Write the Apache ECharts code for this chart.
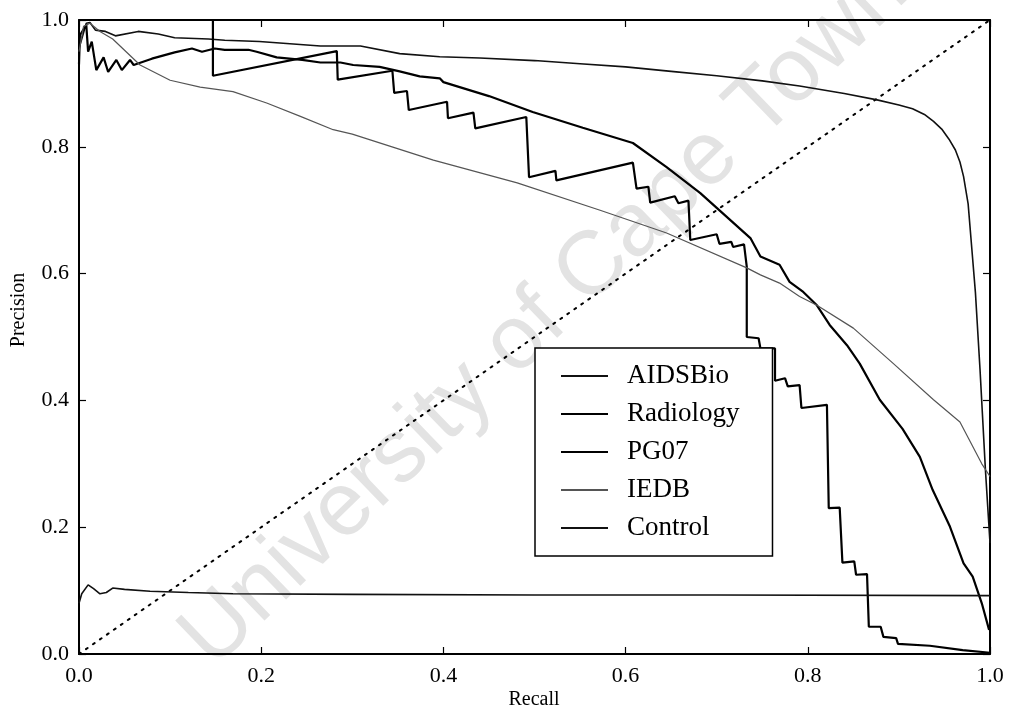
<!DOCTYPE html>
<html>
<head>
<meta charset="utf-8">
<script src="https://cdn.jsdelivr.net/npm/echarts@6/dist/echarts.min.js"></script>
<style>
html,body{margin:0;padding:0;background:#fff;}
#chart{width:1011px;height:714px;}
</style>
</head>
<body>
<div id="chart"></div>
<script>
// ---- data (recall, precision) ----
var seriesNames = ['AIDSBio', 'Radiology', 'PG07', 'IEDB', 'Control'];
var xTickLabels = ['0.0', '0.2', '0.4', '0.6', '0.8', '1.0'];
var yTickLabels = ['0.0', '0.2', '0.4', '0.6', '0.8', '1.0'];

var aidsbio = [
  [0.000, 0.955], [0.008, 0.995], [0.012, 0.996], [0.018, 0.984], [0.029, 0.982],
  [0.040, 0.975], [0.065, 0.982], [0.087, 0.978], [0.105, 0.972], [0.142, 0.970],
  [0.160, 0.968], [0.198, 0.966], [0.265, 0.959], [0.309, 0.959], [0.352, 0.947],
  [0.396, 0.942], [0.440, 0.940], [0.500, 0.936], [0.550, 0.931], [0.600, 0.926],
  [0.650, 0.919], [0.700, 0.912], [0.750, 0.904], [0.791, 0.896], [0.840, 0.884],
  [0.876, 0.874], [0.900, 0.866], [0.915, 0.860], [0.928, 0.851], [0.938, 0.840],
  [0.947, 0.828], [0.955, 0.812], [0.962, 0.795], [0.967, 0.776], [0.971, 0.753],
  [0.976, 0.710], [0.980, 0.640], [0.984, 0.570], [0.989, 0.450], [0.995, 0.290],
  [1.000, 0.175]
];

var radiology = [
  [0.000, 0.930], [0.001, 0.976], [0.008, 0.992], [0.010, 0.950], [0.014, 0.966],
  [0.019, 0.921], [0.027, 0.941], [0.032, 0.918], [0.041, 0.937], [0.047, 0.921],
  [0.056, 0.937], [0.060, 0.929], [0.080, 0.939], [0.105, 0.949], [0.124, 0.955],
  [0.135, 0.950], [0.149, 0.955], [0.160, 0.953], [0.186, 0.953], [0.195, 0.950],
  [0.217, 0.941], [0.245, 0.937], [0.265, 0.933], [0.287, 0.933], [0.301, 0.929],
  [0.330, 0.926], [0.352, 0.919], [0.374, 0.911], [0.396, 0.908], [0.400, 0.902],
  [0.450, 0.880], [0.498, 0.855], [0.553, 0.830], [0.608, 0.806], [0.645, 0.768],
  [0.682, 0.727], [0.737, 0.656], [0.748, 0.627], [0.769, 0.614], [0.780, 0.587],
  [0.795, 0.571], [0.810, 0.550], [0.824, 0.519], [0.843, 0.487], [0.857, 0.458],
  [0.879, 0.401], [0.904, 0.355], [0.923, 0.311], [0.937, 0.259], [0.956, 0.201],
  [0.971, 0.143], [0.981, 0.122], [0.991, 0.080], [0.999, 0.038]
];

var pg07 = [
  [0.000, 1.000], [0.147, 1.000], [0.147, 0.912], [0.283, 0.951], [0.284, 0.906],
  [0.344, 0.920], [0.346, 0.885], [0.360, 0.888], [0.362, 0.858], [0.404, 0.871],
  [0.405, 0.845], [0.433, 0.854], [0.435, 0.829], [0.491, 0.847], [0.494, 0.752],
  [0.523, 0.762], [0.524, 0.747], [0.608, 0.775], [0.612, 0.734], [0.625, 0.737],
  [0.627, 0.712], [0.654, 0.722], [0.658, 0.711], [0.669, 0.715], [0.671, 0.653],
  [0.700, 0.662], [0.703, 0.647], [0.716, 0.650], [0.718, 0.642], [0.730, 0.646],
  [0.733, 0.611], [0.733, 0.500], [0.746, 0.498], [0.748, 0.482], [0.764, 0.482],
  [0.764, 0.431], [0.775, 0.435], [0.778, 0.422], [0.791, 0.424], [0.793, 0.388],
  [0.821, 0.393], [0.823, 0.230], [0.835, 0.231], [0.838, 0.144], [0.851, 0.146],
  [0.853, 0.125], [0.865, 0.126], [0.867, 0.043], [0.880, 0.043], [0.883, 0.027],
  [0.897, 0.025], [0.899, 0.016], [0.934, 0.013], [0.970, 0.006], [1.000, 0.002]
];

var iedb = [
  [0.000, 0.950], [0.005, 0.990], [0.012, 0.995], [0.023, 0.982], [0.037, 0.970],
  [0.067, 0.929], [0.100, 0.905], [0.133, 0.894], [0.169, 0.887], [0.206, 0.869],
  [0.243, 0.848], [0.279, 0.827], [0.300, 0.820], [0.389, 0.779], [0.481, 0.743],
  [0.572, 0.700], [0.645, 0.664], [0.733, 0.609], [0.748, 0.598], [0.769, 0.585],
  [0.791, 0.564], [0.810, 0.550], [0.850, 0.514], [0.894, 0.458], [0.938, 0.401],
  [0.967, 0.366], [0.991, 0.300], [1.000, 0.280]
];

var control = [
  [0.000, 0.080], [0.003, 0.095], [0.010, 0.109], [0.016, 0.103], [0.023, 0.095],
  [0.030, 0.097], [0.037, 0.104], [0.050, 0.102], [0.078, 0.099], [0.120, 0.097],
  [0.169, 0.095], [0.300, 0.094], [0.500, 0.093], [0.700, 0.093], [1.000, 0.092]
];

var diagonal = [[0, 0], [1, 1]];

var serif = '"Liberation Serif", "DejaVu Serif", serif';

var chart = echarts.init(document.getElementById('chart'), null, {renderer: 'canvas'});

var axisCommon = {
  type: 'value', min: 0, max: 1, interval: 0.2,
  splitLine: {show: false},
  axisLine: {show: true, onZero: false, lineStyle: {color: '#000', width: 2}},
  axisTick: {show: true, inside: true, length: 7, lineStyle: {color: '#000', width: 1.2}}
};

var option = {
  backgroundColor: '#fff',
  animation: false,
  grid: {left: 79, right: 21, top: 20, bottom: 60},
  xAxis: [
    Object.assign({}, axisCommon, {
      position: 'bottom',
      axisLabel: {show: true, margin: 11, color: '#000', fontFamily: serif, fontSize: 22,
        formatter: function (v) { return xTickLabels[Math.round(v / 0.2)]; }}
    }),
    Object.assign({}, axisCommon, {position: 'top', axisLabel: {show: false}})
  ],
  yAxis: [
    Object.assign({}, axisCommon, {
      position: 'left',
      axisLabel: {show: true, margin: 10, color: '#000', fontFamily: serif, fontSize: 22,
        formatter: function (v) { return yTickLabels[Math.round(v / 0.2)]; }}
    }),
    Object.assign({}, axisCommon, {position: 'right', axisLabel: {show: false}})
  ],
  legend: {
    show: true,
    orient: 'vertical',
    left: 535, top: 348,
    z: 20,
    data: seriesNames,
    backgroundColor: '#fff',
    borderColor: '#000', borderWidth: 1.5, borderRadius: 0,
    padding: [13, 33, 13, 25],
    itemWidth: 47, itemHeight: 14, itemGap: 8,
    selectedMode: false,
    itemStyle: {opacity: 0, color: 'rgba(0,0,0,0)', borderWidth: 0},
    lineStyle: {width: 2},
    textStyle: {color: '#000', fontFamily: serif, fontSize: 27, lineHeight: 30, padding: [0, 0, 0, 14]}
  },
  graphic: [
    {type: 'text', z: -10, silent: true, x: 545, y: 315, rotation: 44 * Math.PI / 180,
      style: {text: 'University of Cape Town', fill: '#e3e3e3', font: '90px "Liberation Sans", Arial, sans-serif',
        align: 'center', verticalAlign: 'middle'}},
    {type: 'text', x: 534, y: 700, silent: true,
      style: {text: 'Recall', fill: '#000', font: '20px ' + serif, align: 'center', verticalAlign: 'middle'}},
    {type: 'text', x: 19, y: 310, rotation: Math.PI / 2, silent: true,
      style: {text: 'Precision', fill: '#000', font: '20px ' + serif, align: 'center', verticalAlign: 'middle'}}
  ],
  series: [
    {name: 'AIDSBio', type: 'line', data: aidsbio, symbol: 'none', z: 5,
      lineStyle: {color: '#111', width: 1.6}, itemStyle: {color: '#111'}},
    {name: 'Radiology', type: 'line', data: radiology, symbol: 'none', z: 5,
      lineStyle: {color: '#000', width: 2.2}, itemStyle: {color: '#000'}},
    {name: 'PG07', type: 'line', data: pg07, symbol: 'none', z: 5,
      lineStyle: {color: '#000', width: 2.2}, itemStyle: {color: '#000'}},
    {name: 'IEDB', type: 'line', data: iedb, symbol: 'none', z: 5,
      lineStyle: {color: '#555', width: 1.2}, itemStyle: {color: '#555'}},
    {name: 'Control', type: 'line', data: control, symbol: 'none', z: 5,
      lineStyle: {color: '#111', width: 1.6}, itemStyle: {color: '#111'}},
    {name: 'diagonal', type: 'line', data: diagonal, symbol: 'none', z: 4,
      lineStyle: {color: '#000', width: 2, type: [2, 6.5], cap: 'round'}}
  ]
};
chart.setOption(option);
</script>
</body>
</html>
